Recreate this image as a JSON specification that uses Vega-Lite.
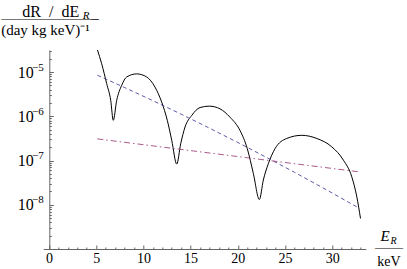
{
  "$schema": "https://vega.github.io/schema/vega-lite/v6.json",
  "width": 322.5,
  "height": 199,
  "autosize": "none",
  "padding": {"left": 43.3, "top": 50, "right": 41.2, "bottom": 20},
  "background": "white",
  "config": {
    "view": {"stroke": null},
    "font": "Liberation Serif",
    "axis": {
      "grid": false,
      "labelFont": "Liberation Serif",
      "titleFont": "Liberation Serif",
      "domainColor": "#666666",
      "tickColor": "#666666",
      "domainWidth": 1,
      "tickWidth": 1,
      "labelColor": "#000000",
      "titleColor": "#000000",
      "titleFontWeight": "normal",
      "labelFlush": false,
      "labelOverlap": false,
      "labelBound": false
    }
  },
  "datasets": {
    "black": [
      {"E": 5.0, "rate": 3.89e-5},
      {"E": 5.12, "rate": 3.24e-5},
      {"E": 5.58, "rate": 1.55e-5},
      {"E": 6.11, "rate": 5.50e-6},
      {"E": 6.54, "rate": 2.29e-6},
      {"E": 6.81, "rate": 8.13e-7},
      {"E": 7.17, "rate": 2.29e-6},
      {"E": 7.70, "rate": 5.01e-6},
      {"E": 8.23, "rate": 7.76e-6},
      {"E": 9.29, "rate": 9.12e-6},
      {"E": 10.35, "rate": 7.76e-6},
      {"E": 11.23, "rate": 4.57e-6},
      {"E": 11.94, "rate": 2.09e-6},
      {"E": 12.53, "rate": 8.13e-7},
      {"E": 13.0, "rate": 2.88e-7},
      {"E": 13.53, "rate": 8.32e-8},
      {"E": 13.95, "rate": 2.40e-7},
      {"E": 14.41, "rate": 5.75e-7},
      {"E": 15.12, "rate": 1.05e-6},
      {"E": 16.0, "rate": 1.58e-6},
      {"E": 16.98, "rate": 1.70e-6},
      {"E": 18.11, "rate": 1.48e-6},
      {"E": 19.17, "rate": 9.55e-7},
      {"E": 20.23, "rate": 4.79e-7},
      {"E": 21.0, "rate": 1.86e-7},
      {"E": 21.64, "rate": 5.13e-8},
      {"E": 22.28, "rate": 1.32e-8},
      {"E": 22.70, "rate": 3.63e-8},
      {"E": 23.23, "rate": 8.51e-8},
      {"E": 23.94, "rate": 1.86e-7},
      {"E": 25.18, "rate": 3.16e-7},
      {"E": 26.77, "rate": 3.72e-7},
      {"E": 28.36, "rate": 3.16e-7},
      {"E": 29.95, "rate": 2.04e-7},
      {"E": 31.18, "rate": 1.02e-7},
      {"E": 32.07, "rate": 4.27e-8},
      {"E": 32.6, "rate": 1.51e-8},
      {"E": 32.99, "rate": 4.90e-9}
    ],
    "blue": [
      {"E": 5.12, "rate": 8.51e-6},
      {"E": 8.0, "rate": 4.49e-6},
      {"E": 11.0, "rate": 2.26e-6},
      {"E": 14.0, "rate": 1.12e-6},
      {"E": 17.0, "rate": 5.40e-7},
      {"E": 20.0, "rate": 2.56e-7},
      {"E": 23.0, "rate": 1.19e-7},
      {"E": 26.0, "rate": 5.42e-8},
      {"E": 29.0, "rate": 2.42e-8},
      {"E": 32.87, "rate": 8.32e-9}
    ],
    "red": [
      {"E": 5.12, "rate": 3.09e-7},
      {"E": 33.02, "rate": 5.50e-8}
    ]
  },
  "layer": [
    {
      "data": {"name": "black"},
      "mark": {"type": "line", "color": "#000000", "strokeWidth": 1, "clip": true, "interpolate": "monotone"},
      "encoding": {
        "x": {
          "field": "E", "type": "quantitative",
          "scale": {"domain": [-0.6, 33.55], "nice": false, "zero": false},
          "axis": {
            "orient": "bottom",
            "values": [0, 5, 10, 15, 20, 25, 30],
            "tickSize": -4,
            "labelPadding": 6,
            "labelFontSize": 14,
            "title": ["——", "keV"],
            "titleFontSize": 14,
            "titleLineHeight": 14,
            "titleAlign": "center",
            "titleBaseline": "alphabetic",
            "titleAngle": 0,
            "titleX": 345.2,
            "titleY": 2.5
          }
        },
        "y": {
          "field": "rate", "type": "quantitative",
          "scale": {"type": "log", "domain": [1e-9, 3.1623e-5], "nice": false},
          "axis": {
            "orient": "left",
            "offset": -6,
            "values": [1e-8, 1e-7, 1e-6, 1e-5],
            "labelExpr": "'10'",
            "tickSize": -4,
            "labelPadding": 20,
            "labelFontSize": 16,
            "labelBaseline": "middle",
            "title": "dR\u2002/\u2002dE",
            "titleFontSize": 16,
            "titleAngle": 0,
            "titleAlign": "left",
            "titleBaseline": "alphabetic",
            "titleX": -27.5,
            "titleY": -33.5
          }
        }
      }
    },
    {
      "data": {"name": "blue"},
      "mark": {"type": "line", "color": "#3F3D99", "strokeWidth": 1, "strokeDash": [4, 3], "opacity": 0.85, "clip": true},
      "encoding": {
        "x": {
          "field": "E", "type": "quantitative",
          "scale": {"domain": [-0.6, 33.55], "nice": false, "zero": false},
          "axis": {
            "orient": "bottom",
            "values": [1, 2, 3, 4, 6, 7, 8, 9, 11, 12, 13, 14, 16, 17, 18, 19, 21, 22, 23, 24, 26, 27, 28, 29, 31, 32, 33],
            "tickSize": -2,
            "labels": false,
            "domain": false,
            "title": "E",
            "titleFontSize": 15,
            "titleFontStyle": "italic",
            "titleAlign": "left",
            "titleBaseline": "alphabetic",
            "titleAngle": 0,
            "titleX": 336.7,
            "titleY": -8.5
          }
        },
        "y": {
          "field": "rate", "type": "quantitative",
          "scale": {"type": "log", "domain": [1e-9, 3.1623e-5], "nice": false},
          "axis": {
            "orient": "left",
            "offset": -6,
            "values": [2e-9, 3e-9, 4e-9, 5e-9, 6e-9, 7e-9, 8e-9, 9e-9, 2e-8, 3e-8, 4e-8, 5e-8, 6e-8, 7e-8, 8e-8, 9e-8, 2e-7, 3e-7, 4e-7, 5e-7, 6e-7, 7e-7, 8e-7, 9e-7, 2e-6, 3e-6, 4e-6, 5e-6, 6e-6, 7e-6, 8e-6, 9e-6, 2e-5, 3e-5],
            "tickSize": -2,
            "labels": false,
            "domain": false,
            "title": "R",
            "titleFontSize": 11,
            "titleFontStyle": "italic",
            "titleAngle": 0,
            "titleAlign": "left",
            "titleBaseline": "alphabetic",
            "titleX": 33,
            "titleY": -31.5
          }
        }
      }
    },
    {
      "data": {"name": "red"},
      "mark": {"type": "line", "color": "#993D74", "strokeWidth": 1, "strokeDash": [6, 3, 1.5, 3], "opacity": 0.85, "clip": true},
      "encoding": {
        "x": {
          "field": "E", "type": "quantitative",
          "scale": {"domain": [-0.6, 33.55], "nice": false, "zero": false},
          "axis": {
            "orient": "bottom",
            "values": [],
            "ticks": false,
            "labels": false,
            "domain": false,
            "title": "R",
            "titleFontSize": 10,
            "titleFontStyle": "italic",
            "titleAlign": "left",
            "titleBaseline": "alphabetic",
            "titleAngle": 0,
            "titleX": 346.7,
            "titleY": -6
          }
        },
        "y": {
          "field": "rate", "type": "quantitative",
          "scale": {"type": "log", "domain": [1e-9, 3.1623e-5], "nice": false},
          "axis": {
            "orient": "left",
            "offset": -6,
            "values": [1e-8, 1e-7, 1e-6, 1e-5],
            "labelExpr": "'−' + round(-log(datum.value) / LN10)",
            "ticks": false,
            "domain": false,
            "labelPadding": 6,
            "labelFontSize": 11,
            "labelOffset": -5,
            "labelBaseline": "middle",
            "labelAlign": "right",
            "title": ["——————–", "(day kg keV)⁻¹"],
            "titleFontSize": 15,
            "titleLineHeight": 12,
            "titleAngle": 0,
            "titleAlign": "left",
            "titleBaseline": "alphabetic",
            "titleX": -48.6,
            "titleY": -27.5
          }
        }
      }
    }
  ],
  "resolve": {"axis": {"x": "independent", "y": "independent"}}
}
